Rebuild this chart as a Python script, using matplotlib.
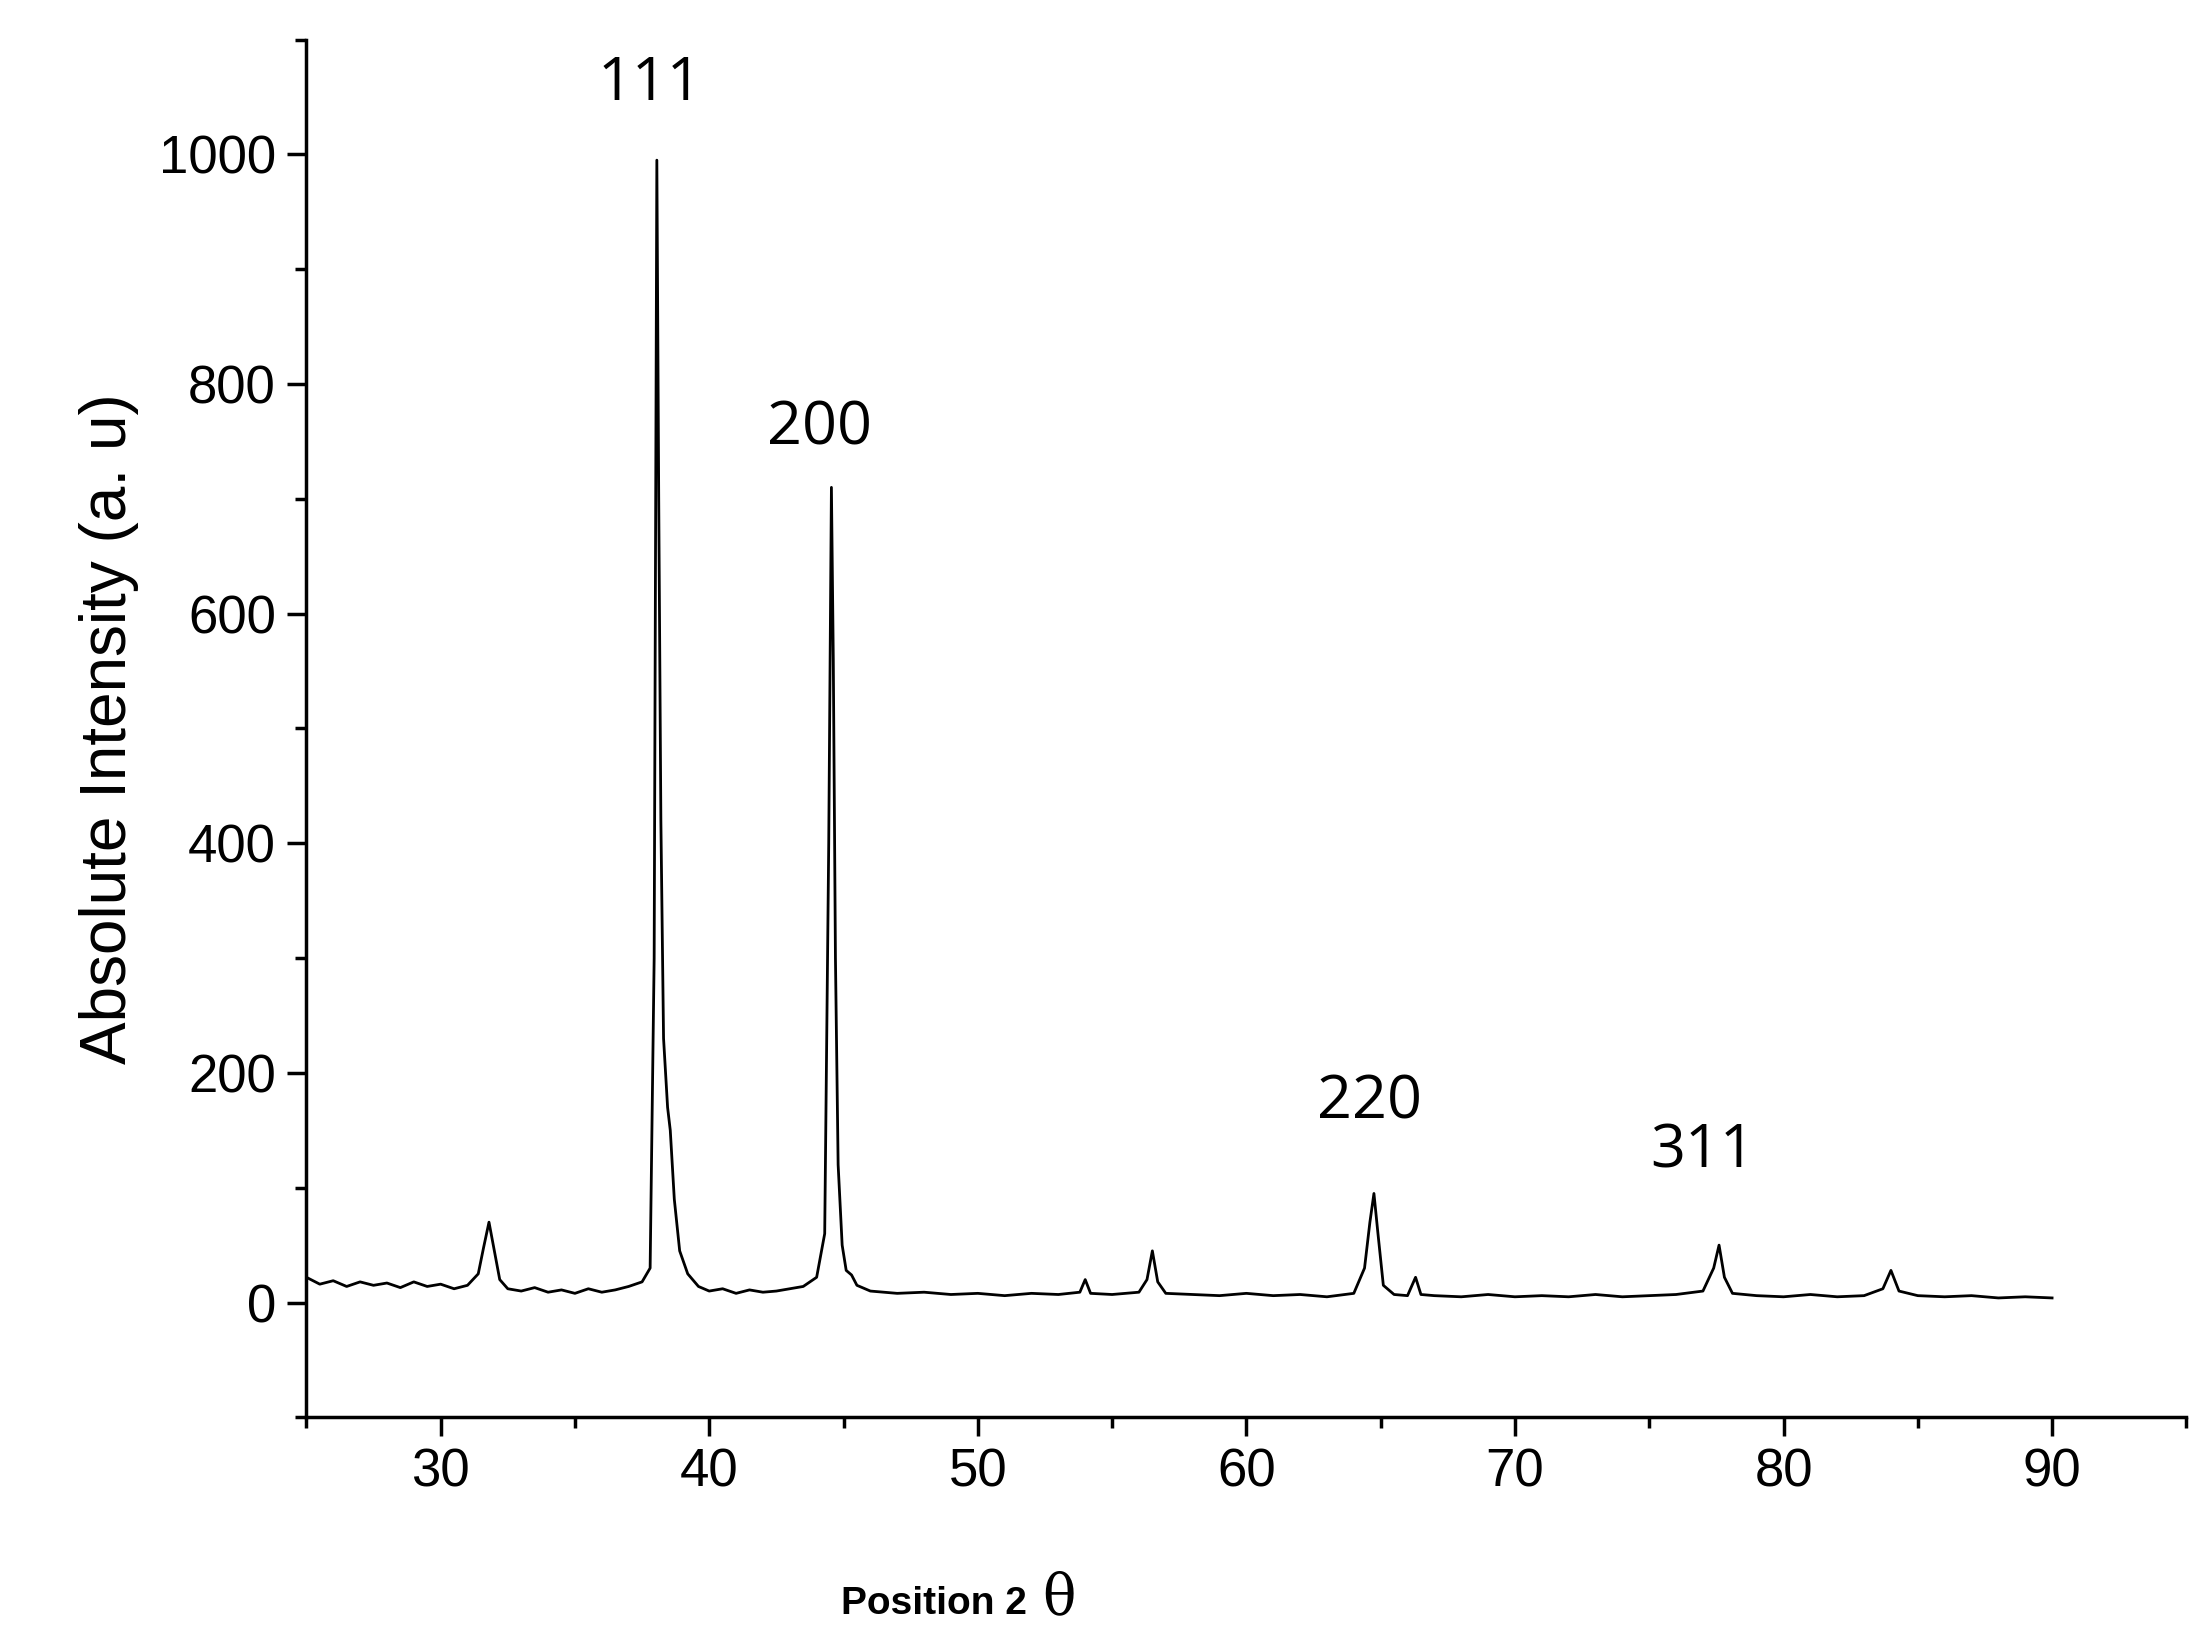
import matplotlib.pyplot as plt
from matplotlib.ticker import MultipleLocator

# diffraction pattern, hand-read sample points (2theta, intensity)
two_theta = [25.0, 25.5, 26.0, 26.5, 27.0, 27.5, 28.0, 28.5, 29.0, 29.5, 30.0, 30.5, 31.0, 31.4,
             31.6, 31.8, 32.0, 32.2, 32.5, 33.0, 33.5, 34.0, 34.5, 35.0, 35.5, 36.0, 36.5, 37.0,
             37.5, 37.8, 37.95, 38.05, 38.12, 38.2, 38.3, 38.45, 38.55, 38.7, 38.9, 39.2, 39.6,
             40.0, 40.5, 41.0, 41.5, 42.0, 42.5, 43.0, 43.5, 44.0, 44.3, 44.45, 44.55, 44.62,
             44.7, 44.8, 44.95, 45.1, 45.3, 45.5, 46.0, 47.0, 48.0, 49.0, 50.0, 51.0, 52.0,
             53.0, 53.8, 54.0, 54.2, 55.0, 56.0, 56.3, 56.5, 56.7, 57.0, 58.0, 59.0, 60.0,
             61.0, 62.0, 63.0, 64.0, 64.4, 64.6, 64.75, 64.9, 65.1, 65.5, 66.0, 66.3, 66.5,
             67.0, 68.0, 69.0, 70.0, 71.0, 72.0, 73.0, 74.0, 75.0, 76.0, 77.0, 77.4, 77.6,
             77.8, 78.1, 79.0, 80.0, 81.0, 82.0, 83.0, 83.7, 84.0, 84.3, 85.0, 86.0, 87.0,
             88.0, 89.0, 90.0]
intensity = [22, 16, 19, 14, 18, 15, 17, 13, 18, 14, 16, 12, 15, 25,
             48, 70, 45, 20, 12, 10, 13, 9, 11, 8, 12, 9, 11, 14,
             18, 30, 300, 995, 700, 420, 230, 170, 150, 90, 45, 25, 14,
             10, 12, 8, 11, 9, 10, 12, 14, 22, 60, 400, 710, 560,
             300, 120, 50, 28, 24, 15, 10, 8, 9, 7, 8, 6, 8,
             7, 9, 20, 8, 7, 9, 20, 45, 18, 8, 7, 6, 8,
             6, 7, 5, 8, 30, 70, 95, 60, 15, 7, 6, 22, 7,
             6, 5, 7, 5, 6, 5, 7, 5, 6, 7, 10, 30, 50,
             22, 8, 6, 5, 7, 5, 6, 12, 28, 10, 6, 5, 6,
             4, 5, 4]

peak_labels = ['111', '200', '220', '311']
label_x = [37.8, 44.1, 64.6, 77.0]
label_y = [1035, 735, 148, 105]

fig = plt.figure(figsize=(22.04, 16.5), dpi=100)
ax = fig.add_axes([0.139, 0.141, 0.853, 0.835])
ax.plot(two_theta, intensity, color='black', lw=2)

for lab, x, y in zip(peak_labels, label_x, label_y):
    ax.text(x, y, lab, ha='center', va='bottom', fontsize=44, family='Open Sans')

ax.set_xlim(25, 95)
ax.set_ylim(-100, 1100)
ax.xaxis.set_minor_locator(MultipleLocator(5))
ax.yaxis.set_minor_locator(MultipleLocator(100))
ax.set_xticks(range(30, 100, 10))
ax.set_yticks(range(0, 1001, 200))
for s in ['top', 'right']:
    ax.spines[s].set_visible(False)
for s in ['left', 'bottom']:
    ax.spines[s].set_linewidth(2.5)
ax.tick_params(which='major', length=14, width=2.5, labelsize=38, pad=8)
ax.tick_params(which='minor', length=8, width=2.5)
for t in ax.get_xticklabels() + ax.get_yticklabels():
    t.set_family('Liberation Sans')

ax.set_ylabel('Absolute Intensity (a. u)', fontsize=46, family='Liberation Sans', labelpad=14)
fig.text(0.466, 0.022, 'Position 2', fontsize=28, fontweight='bold', family='Liberation Sans',
         ha='right', va='baseline')
fig.text(0.473, 0.022, 'θ', fontsize=40, family='DejaVu Serif', ha='left', va='baseline')

fig.savefig('out.png', dpi=100, facecolor='white')
